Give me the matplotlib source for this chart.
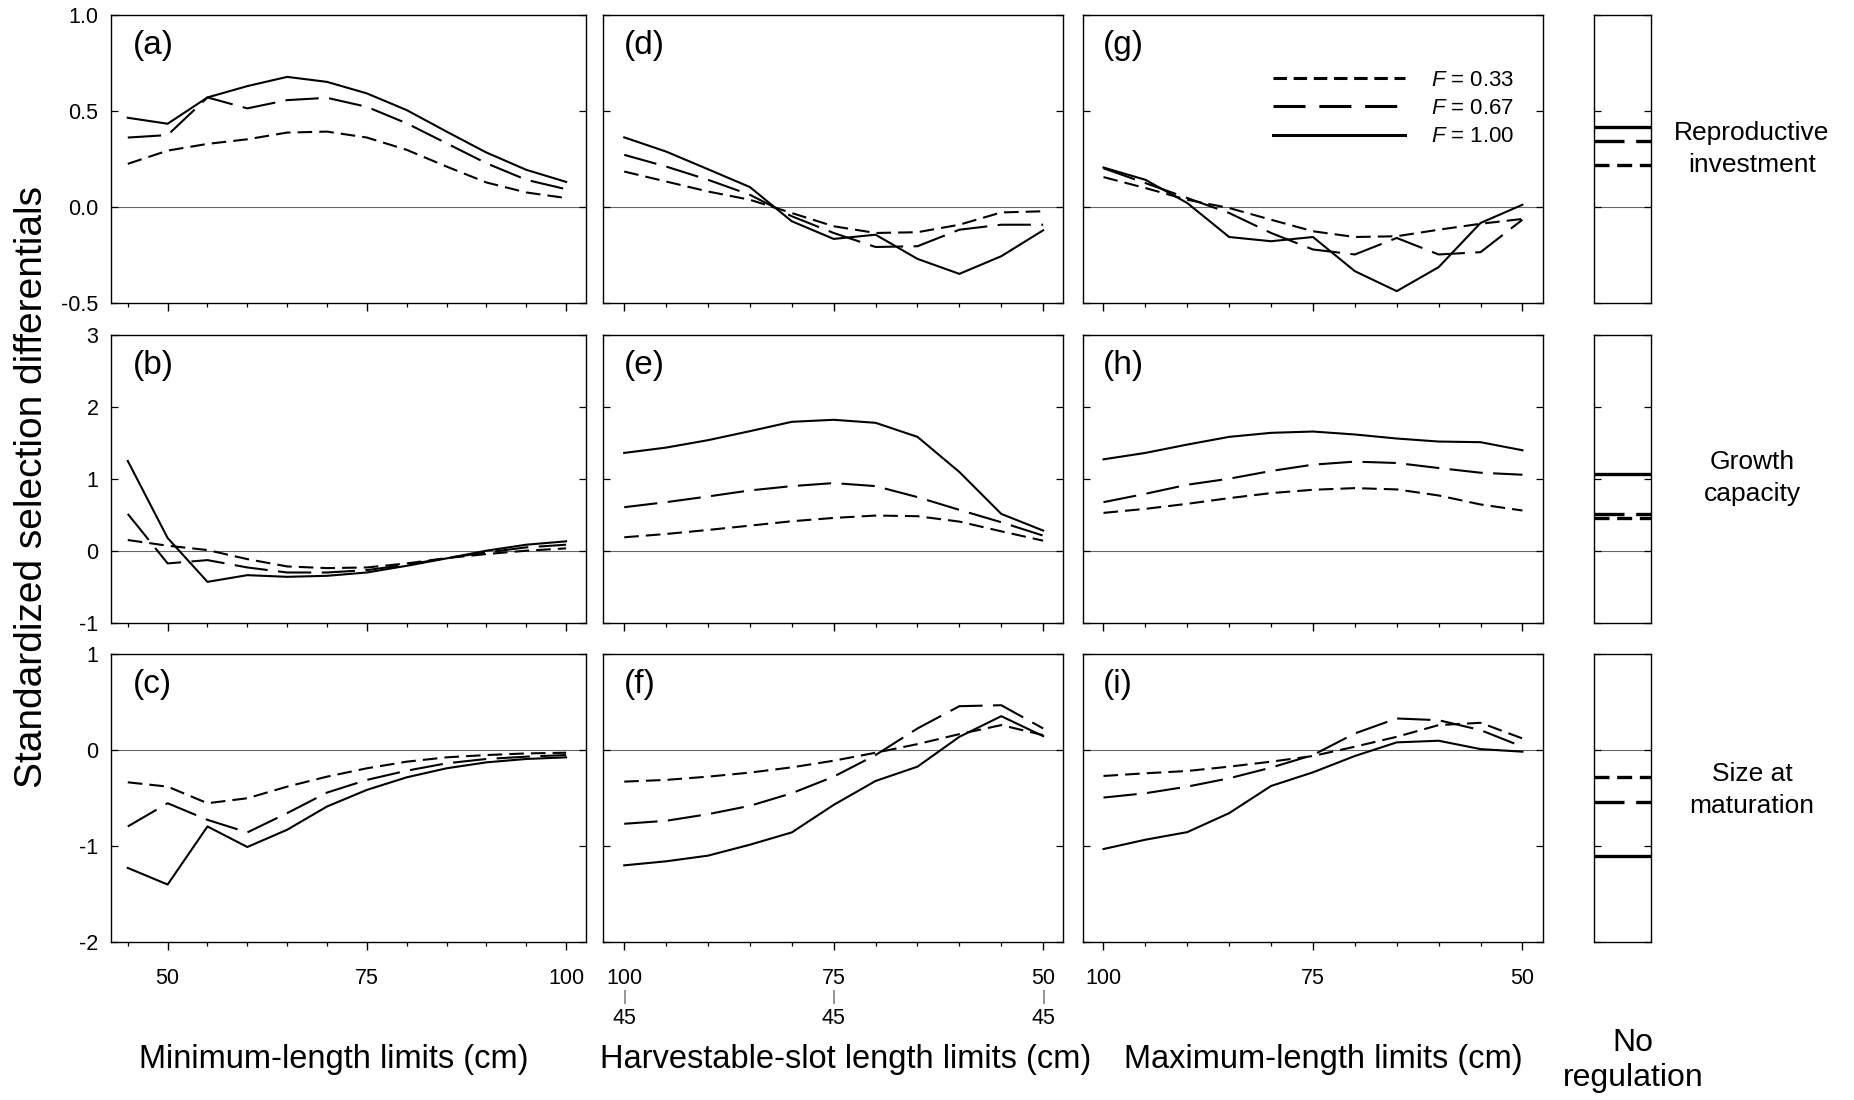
import numpy as np
import matplotlib
matplotlib.use('Agg')
import matplotlib.pyplot as plt
from matplotlib.transforms import blended_transform_factory

plt.rcParams['font.family'] = ['Liberation Sans', 'DejaVu Sans']
plt.rcParams['mathtext.fontset'] = 'custom'
plt.rcParams['mathtext.it'] = 'Liberation Sans:italic'
plt.rcParams['mathtext.rm'] = 'Liberation Sans'
plt.rcParams['axes.unicode_minus'] = False

# x values (cm)
min_limits = [45, 50, 55, 60, 65, 70, 75, 80, 85, 90, 95, 100]
upper_limits = [100, 95, 90, 85, 80, 75, 70, 65, 60, 55, 50]
slot_lower = 45
f_labels = ['$F$ = 0.33', '$F$ = 0.67', '$F$ = 1.00']

# reproductive investment
repro_min_033 = [0.225, 0.294, 0.329, 0.353, 0.388, 0.393, 0.362, 0.298, 0.211, 0.128, 0.076, 0.047]
repro_min_067 = [0.362, 0.375, 0.571, 0.514, 0.557, 0.569, 0.522, 0.436, 0.332, 0.228, 0.142, 0.093]
repro_min_100 = [0.465, 0.434, 0.571, 0.630, 0.678, 0.652, 0.592, 0.505, 0.393, 0.284, 0.194, 0.131]
repro_slot_033 = [0.185, 0.133, 0.081, 0.038, -0.031, -0.100, -0.135, -0.131, -0.092, -0.028, -0.022]
repro_slot_067 = [0.272, 0.211, 0.142, 0.064, -0.048, -0.135, -0.208, -0.204, -0.118, -0.092, -0.092]
repro_slot_100 = [0.363, 0.289, 0.197, 0.104, -0.074, -0.166, -0.144, -0.270, -0.348, -0.256, -0.121]
repro_max_033 = [0.156, 0.099, 0.038, -0.005, -0.066, -0.126, -0.156, -0.152, -0.118, -0.087, -0.062]
repro_max_067 = [0.202, 0.125, 0.047, -0.031, -0.135, -0.221, -0.247, -0.161, -0.247, -0.235, -0.066]
repro_max_100 = [0.206, 0.142, 0.021, -0.156, -0.178, -0.156, -0.334, -0.438, -0.313, -0.083, 0.012]
repro_noreg = [0.218, 0.344, 0.415]

# growth capacity
growth_min_033 = [0.153, 0.074, 0.014, -0.112, -0.214, -0.237, -0.228, -0.172, -0.098, -0.042, 0.005, 0.037]
growth_min_067 = [0.516, -0.172, -0.126, -0.228, -0.298, -0.298, -0.265, -0.190, -0.098, -0.019, 0.051, 0.088]
growth_min_100 = [1.251, 0.181, -0.428, -0.335, -0.358, -0.344, -0.298, -0.205, -0.102, 0.005, 0.088, 0.135]
growth_slot_033 = [0.191, 0.237, 0.293, 0.353, 0.414, 0.460, 0.493, 0.484, 0.409, 0.274, 0.144]
growth_slot_067 = [0.609, 0.679, 0.758, 0.842, 0.902, 0.944, 0.902, 0.749, 0.572, 0.400, 0.214]
growth_slot_100 = [1.363, 1.437, 1.540, 1.665, 1.795, 1.823, 1.781, 1.586, 1.098, 0.516, 0.284]
growth_max_033 = [0.530, 0.586, 0.656, 0.735, 0.805, 0.851, 0.874, 0.856, 0.772, 0.647, 0.563]
growth_max_067 = [0.679, 0.795, 0.921, 1.005, 1.112, 1.200, 1.242, 1.223, 1.153, 1.088, 1.060]
growth_max_100 = [1.274, 1.363, 1.479, 1.586, 1.642, 1.660, 1.619, 1.563, 1.521, 1.512, 1.400]
growth_noreg = [0.46, 0.516, 1.074]

# size at maturation
size_min_033 = [-0.336, -0.381, -0.554, -0.502, -0.381, -0.277, -0.190, -0.121, -0.076, -0.052, -0.035, -0.028]
size_min_067 = [-0.796, -0.554, -0.727, -0.858, -0.657, -0.443, -0.311, -0.215, -0.138, -0.093, -0.069, -0.052]
size_min_100 = [-1.228, -1.401, -0.796, -1.010, -0.830, -0.588, -0.415, -0.284, -0.190, -0.128, -0.093, -0.076]
size_slot_033 = [-0.329, -0.311, -0.277, -0.235, -0.180, -0.111, -0.028, 0.062, 0.166, 0.260, 0.156]
size_slot_067 = [-0.768, -0.737, -0.668, -0.581, -0.450, -0.277, -0.052, 0.225, 0.457, 0.467, 0.225]
size_slot_100 = [-1.201, -1.159, -1.100, -0.986, -0.858, -0.571, -0.322, -0.173, 0.138, 0.353, 0.145]
size_max_033 = [-0.270, -0.242, -0.218, -0.173, -0.121, -0.062, 0.035, 0.138, 0.260, 0.284, 0.121]
size_max_067 = [-0.495, -0.450, -0.381, -0.294, -0.183, -0.052, 0.173, 0.329, 0.311, 0.208, 0.035]
size_max_100 = [-1.031, -0.934, -0.855, -0.657, -0.374, -0.232, -0.062, 0.080, 0.097, 0.010, -0.017]
size_noreg = [-0.284, -0.536, -1.107]

trait_names = ['Reproductive\ninvestment', 'Growth\ncapacity', 'Size at\nmaturation']
col_titles = ['Minimum-length limits (cm)', 'Harvestable-slot length limits (cm)',
              'Maximum-length limits (cm)']
panel_letters = [['(a)', '(d)', '(g)'], ['(b)', '(e)', '(h)'], ['(c)', '(f)', '(i)']]
row_ylims = [(-0.5, 1.0), (-1, 3), (-2, 1)]
row_yticks = [[-0.5, 0.0, 0.5, 1.0], [-1, 0, 1, 2, 3], [-2, -1, 0, 1]]

series = [
    [[repro_min_033, repro_min_067, repro_min_100],
     [repro_slot_033, repro_slot_067, repro_slot_100],
     [repro_max_033, repro_max_067, repro_max_100]],
    [[growth_min_033, growth_min_067, growth_min_100],
     [growth_slot_033, growth_slot_067, growth_slot_100],
     [growth_max_033, growth_max_067, growth_max_100]],
    [[size_min_033, size_min_067, size_min_100],
     [size_slot_033, size_slot_067, size_slot_100],
     [size_max_033, size_max_067, size_max_100]],
]
noreg = [repro_noreg, growth_noreg, size_noreg]

line_styles = [(0, (7, 3.4)), (0, (16, 5)), '-']
noreg_styles = [(0, (4.5, 2.3)), (0, (9, 3.5)), '-']
legend_styles = [(0, (4.4, 2.2)), (0, (10.5, 4.5)), '-']

fig = plt.figure(figsize=(18.54, 11.0), dpi=100)

col_left = [0.0599, 0.3254, 0.5839, 0.8595]
col_width = [0.2562, 0.2481, 0.2481, 0.0310]
row_bottom = [0.7245, 0.4336, 0.1436]
row_height = 0.2618
trait_y = [0.535, 0.504, 0.528]

for r in range(3):
    for c in range(4):
        ax = fig.add_axes([col_left[c], row_bottom[r], col_width[c], row_height])
        ax.set_ylim(*row_ylims[r])
        ax.set_yticks(row_yticks[r])
        ax.axhline(0, color='0.4', lw=0.8, zorder=1)
        for sp in ax.spines.values():
            sp.set_linewidth(1.0)
        ax.tick_params(axis='y', direction='in', left=True, right=True,
                       length=5, width=0.9, labelsize=15.5, pad=9)
        ax.tick_params(axis='x', direction='out', top=False, labelsize=15.5, pad=13)
        ax.tick_params(axis='x', which='major', length=6, width=1.0)
        ax.tick_params(axis='x', which='minor', length=3, width=0.9)
        if c > 0:
            ax.tick_params(axis='y', labelleft=False)
        if c == 3:
            ax.set_xticks([])
            for k in range(3):
                ax.axhline(noreg[r][k], color='black', lw=2.4, ls=noreg_styles[k])
            fig.text(0.945, row_bottom[r] + row_height * trait_y[r],
                     trait_names[r], ha='center', va='center', fontsize=19, linespacing=1.4)
            continue
        if c == 0:
            xs = min_limits
            ax.set_xlim(42.9, 102.5)
            ax.set_xticks([50, 75, 100])
            ax.set_xticks(min_limits, minor=True)
        else:
            xs = upper_limits
            ax.set_xlim(102.5, 47.6)
            ax.set_xticks([100, 75, 50])
            ax.set_xticks(upper_limits, minor=True)
        for k in range(3):
            ax.plot(xs, series[r][c][k], color='black', lw=1.5, ls=line_styles[k],
                    label=f_labels[k], zorder=3)
        ax.text(0.045, 0.895, panel_letters[r][c], transform=ax.transAxes,
                fontsize=24, va='center', ha='left')
        if r < 2:
            ax.tick_params(axis='x', labelbottom=False)
        elif c == 1:
            trans = blended_transform_factory(ax.transData, ax.transAxes)
            for v in [100, 75, 50]:
                ax.text(v, -0.19, '|', transform=trans, ha='center', va='center',
                        fontsize=11, color='0.35')
                ax.text(v, -0.265, str(slot_lower), transform=trans, ha='center',
                        va='center', fontsize=15.5)
        if r == 0 and c == 2:
            leg = ax.legend(loc='upper left', bbox_to_anchor=(0.415, 0.81), frameon=False,
                            fontsize=16, handlelength=5.9, handletextpad=1.2,
                            labelspacing=0.33, borderpad=0, borderaxespad=0)
            for h, st in zip(leg.get_lines(), legend_styles):
                h.set_linewidth(2.2)
                h.set_linestyle(st)
        if c == 0:
            ax.set_yticklabels(['%.1f' % v if r == 0 else '%d' % v for v in row_yticks[r]])

fig.text(0.0173, 0.557, 'Standardized selection differentials', rotation=90,
         ha='center', va='center', fontsize=28)
for x, t in zip([0.180, 0.456, 0.714], col_titles):
    fig.text(x, 0.037, t, ha='center', va='center', fontsize=23.5)
fig.text(0.881, 0.036, 'No\nregulation', ha='center', va='center', fontsize=23,
         linespacing=1.2)

fig.savefig('out.png', dpi=100)
